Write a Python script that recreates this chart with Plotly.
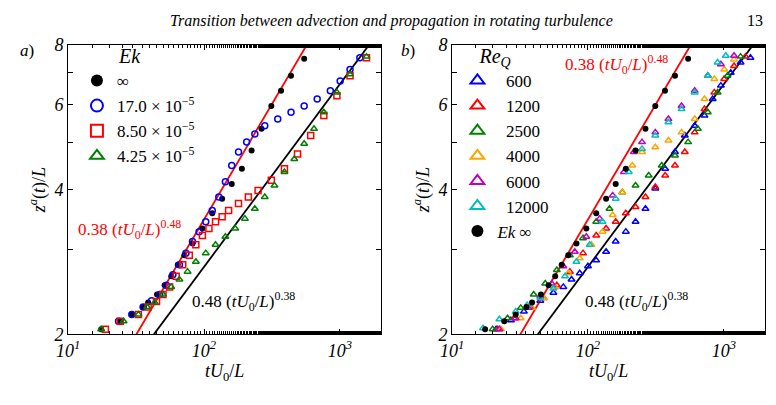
import numpy as np
import plotly.graph_objects as go

# ---- panel a: Ek series ----
t_inf = [17.5, 24.2, 29.4, 35.3, 38.8, 45.1, 51.3, 57.4, 64.1, 71.6, 82.3, 97.3, 115, 136, 160, 190, 224, 265, 313, 369, 437, 546]
z_inf = [2.05, 2.13, 2.20, 2.28, 2.33, 2.42, 2.53, 2.64, 2.79, 2.92, 3.09, 3.32, 3.57, 3.83, 4.11, 4.42, 4.82, 5.35, 5.97, 6.42, 6.9, 7.48]

t_ek17 = [23.5, 29.4, 35.7, 41.1, 47.2, 52.8, 59, 65.9, 73.6, 82.3, 92, 103, 115, 128.5, 143.6, 160, 179.5, 206, 236.6, 280, 349, 437, 546, 681, 851, 1005, 1188, 1403]
z_ek17 = [2.13, 2.20, 2.28, 2.35, 2.42, 2.53, 2.66, 2.79, 2.95, 3.12, 3.27, 3.43, 3.62, 3.86, 4.15, 4.49, 4.79, 5.02, 5.22, 5.43, 5.61, 5.79, 5.97, 6.17, 6.42, 6.73, 7.11, 7.52]

t_ek85 = [18.8, 24.2, 32.9, 38.8, 44.7, 49.9, 55.8, 62.4, 69.7, 77.9, 87.1, 97.3, 108.7, 121.6, 136, 151.7, 179.5, 212, 250, 313, 391, 488, 610, 762, 951, 1188, 1570]
z_ek85 = [2.05, 2.13, 2.20, 2.28, 2.34, 2.42, 2.51, 2.64, 2.79, 2.92, 3.07, 3.21, 3.32, 3.43, 3.51, 3.62, 3.74, 3.86, 3.98, 4.18, 4.42, 4.74, 5.18, 5.70, 6.27, 6.9, 7.52]

t_ek425 = [17.5, 25.6, 32.9, 38.2, 43.4, 49.9, 57.4, 65.9, 75.7, 87.1, 103, 121.6, 143.6, 169.6, 200, 236.6, 280, 330, 391, 462, 546, 645, 762, 951, 1188, 1570]
z_ek425 = [2.05, 2.13, 2.20, 2.28, 2.33, 2.42, 2.51, 2.60, 2.70, 2.83, 2.95, 3.07, 3.19, 3.32, 3.48, 3.65, 3.86, 4.08, 4.35, 4.63, 4.98, 5.35, 5.79, 6.37, 6.95, 7.56]

# ---- panel b: Re_Q series ----
t_600 = [21.1, 27.1, 33.8, 44.6, 55.7, 65.9, 75.7, 87.0, 100, 115, 136, 160, 190, 224, 265, 313, 370, 437, 516, 610, 720, 828, 951, 1124, 1328, 1569]
z_600 = [2.05, 2.14, 2.23, 2.35, 2.44, 2.51, 2.60, 2.68, 2.77, 2.85, 2.97, 3.12, 3.27, 3.43, 3.65, 4.02, 4.42, 4.79, 5.18, 5.43, 5.70, 6.17, 6.58, 7.0, 7.35, 7.52]

t_1200 = [21.7, 28.6, 37.8, 47.2, 59.0, 73.6, 92.0, 115, 136, 160, 190, 224, 265, 313, 370, 437, 516, 610, 720, 851, 1006, 1189, 1443]
z_1200 = [2.05, 2.16, 2.27, 2.38, 2.53, 2.70, 2.95, 3.21, 3.32, 3.43, 3.57, 3.68, 3.86, 4.05, 4.28, 4.49, 4.79, 5.26, 5.88, 6.37, 6.79, 7.23, 7.56]

t_2500 = [19.9, 25.6, 32.0, 39.9, 48.5, 59.0, 73.6, 92.0, 115, 144, 179, 224, 280, 349, 437, 546, 644, 762, 900, 1063, 1328]
z_2500 = [2.05, 2.16, 2.27, 2.42, 2.55, 2.72, 2.92, 3.17, 3.43, 3.65, 3.95, 4.08, 4.28, 4.49, 4.71, 5.02, 5.35, 5.79, 6.37, 6.9, 7.56]

t_4000 = [22.9, 32.0, 38.8, 47.2, 57.3, 71.6, 87.0, 106, 128, 152, 179, 212, 250, 313, 391, 488, 610, 720, 851, 1006, 1189]
z_4000 = [2.05, 2.16, 2.27, 2.38, 2.51, 2.68, 2.88, 3.07, 3.27, 3.54, 3.95, 4.49, 4.79, 4.90, 5.06, 5.26, 5.61, 6.17, 6.79, 7.11, 7.46]

t_6000 = [22.3, 29.4, 36.7, 44.6, 54.2, 65.9, 80.0, 97.2, 122, 152, 184, 218, 250, 313, 391, 488, 610, 762, 951, 1189]
z_6000 = [2.05, 2.16, 2.27, 2.40, 2.55, 2.77, 2.97, 3.19, 3.48, 3.89, 4.35, 4.79, 5.02, 5.26, 5.61, 5.97, 6.42, 6.9, 7.29, 7.59]

t_12000 = [16.9, 22.3, 29.4, 35.7, 44.6, 55.7, 67.8, 82.3, 103, 128, 160, 200, 250, 313, 391, 488, 610, 762, 900, 1034]
z_12000 = [2.06, 2.15, 2.23, 2.30, 2.38, 2.49, 2.64, 2.83, 3.07, 3.43, 3.83, 4.35, 4.86, 5.18, 5.52, 5.88, 6.37, 6.9, 7.35, 7.59]

# fits
t_fit = np.logspace(1, 3.5, 200)
z_red = 0.38 * t_fit ** 0.48
z_blk = 0.48 * t_fit ** 0.38

FONT = "Liberation Serif"
fig = go.Figure()


def pts(x, y, name, color, symbol, xa, ya, leg, filled=False):
    fig.add_trace(go.Scatter(
        x=x, y=y, mode="markers", name=name, xaxis=xa, yaxis=ya, legend=leg,
        marker=dict(symbol=symbol, size=6, color=color,
                    line=dict(color=color, width=1.5 if not filled else 0)),
    ))


for xa, ya, leg in [("x", "y", "legend"), ("x2", "y2", "legend2")]:
    fig.add_trace(go.Scatter(x=t_fit, y=z_red, mode="lines", line=dict(color="red", width=1.8),
                             xaxis=xa, yaxis=ya, showlegend=False))
    fig.add_trace(go.Scatter(x=t_fit, y=z_blk, mode="lines", line=dict(color="black", width=1.8),
                             xaxis=xa, yaxis=ya, showlegend=False))

pts(t_inf, z_inf, "∞", "black", "circle", "x", "y", "legend", True)
pts(t_ek17, z_ek17, "17.0 × 10<sup>−5</sup>", "#0000ff", "circle-open", "x", "y", "legend")
pts(t_ek85, z_ek85, "8.50 × 10<sup>−5</sup>", "#ff0000", "square-open", "x", "y", "legend")
pts(t_ek425, z_ek425, "4.25 × 10<sup>−5</sup>", "#008000", "triangle-up-open", "x", "y", "legend")

pts(t_600, z_600, "  600", "#0000ff", "triangle-up-open", "x2", "y2", "legend2")
pts(t_1200, z_1200, "  1200", "#ff0000", "triangle-up-open", "x2", "y2", "legend2")
pts(t_2500, z_2500, "  2500", "#008000", "triangle-up-open", "x2", "y2", "legend2")
pts(t_4000, z_4000, "  4000", "#ffa500", "triangle-up-open", "x2", "y2", "legend2")
pts(t_6000, z_6000, "  6000", "#bf00bf", "triangle-up-open", "x2", "y2", "legend2")
pts(t_12000, z_12000, "  12000", "#00bfbf", "triangle-up-open", "x2", "y2", "legend2")
pts(t_inf, z_inf, "<i>Ek</i> ∞", "black", "circle", "x2", "y2", "legend2", True)

xax = dict(type="log", range=[1.0, 3.304], showline=True, mirror="ticks", linecolor="black",
           ticks="inside", ticklen=5, tickcolor="black", tickvals=[10, 100, 1000],
           ticktext=["<i>10<sup>1</sup></i>", "<i>10<sup>2</sup></i>", "<i>10<sup>3</sup></i>"],
           minor=dict(ticks="inside", ticklen=3, tickcolor="black"),
           showgrid=False, zeroline=False, tickfont=dict(size=18),
           title=dict(text="<i>tU</i><sub>0</sub>/<i>L</i>", font=dict(size=18), standoff=2))
yax = dict(type="log", range=[np.log10(2), np.log10(8)], showline=True, mirror="ticks", linecolor="black",
           ticks="inside", ticklen=5, tickcolor="black", tickvals=[2, 3, 4, 5, 6, 7, 8],
           ticktext=["<i>2</i>", "", "<i>4</i>", "", "<i>6</i>", "", "<i>8</i>"], showgrid=False,
           zeroline=False, tickfont=dict(size=18),
           title=dict(text="<i>z<sup>a</sup></i>(<i>t</i>)/<i>L</i>", font=dict(size=18), standoff=4))

legend_common = dict(bgcolor="rgba(0,0,0,0)", font=dict(size=17), itemsizing="constant",
                     tracegroupgap=0, yanchor="top", xanchor="left")

fig.update_layout(
    width=776, height=405, margin=dict(l=0, r=0, t=0, b=0),
    paper_bgcolor="white", plot_bgcolor="white",
    font=dict(family=FONT, color="black", size=16),
    xaxis=dict(xax, domain=[0.0735, 0.4832], anchor="y"),
    yaxis=dict(yax, domain=[0.1576, 0.9096], anchor="x"),
    xaxis2=dict(xax, domain=[0.576, 0.9858], anchor="y2"),
    yaxis2=dict(yax, domain=[0.1576, 0.9096], anchor="x2"),
    legend=dict(legend_common, x=0.085, y=0.93,
                title=dict(text="        <i>Ek</i>", side="top")),
    legend2=dict(legend_common, x=0.583, y=0.93,
                 title=dict(text="    <i>Re<sub>Q</sub></i>", side="top")),
    showlegend=True,
)

fig.add_annotation(text="<i>Transition between advection and propagation in rotating turbulence</i>",
                   x=0.497, y=1.0, xref="paper", yref="paper", xanchor="center", yanchor="top",
                   showarrow=False, font=dict(size=16))
fig.add_annotation(text="13", x=0.985, y=1.0, xref="paper", yref="paper", xanchor="right",
                   yanchor="top", showarrow=False, font=dict(size=16))
fig.add_annotation(text="<i>a</i>)", x=0.008, y=0.925, xref="paper", yref="paper", xanchor="left",
                   yanchor="top", showarrow=False, font=dict(size=17))
fig.add_annotation(text="<i>b</i>)", x=0.506, y=0.925, xref="paper", yref="paper", xanchor="left",
                   yanchor="top", showarrow=False, font=dict(size=17))

red_txt = "0.38 (<i>tU</i><sub>0</sub>/<i>L</i>)<sup>0.48</sup>"
blk_txt = "0.48 (<i>tU</i><sub>0</sub>/<i>L</i>)<sup>0.38</sup>"
fig.add_annotation(text=red_txt, x=1.06, y=0.52, xref="x", yref="y", xanchor="left", showarrow=False,
                   font=dict(size=17, color="red"))
fig.add_annotation(text=blk_txt, x=1.9, y=0.37, xref="x", yref="y", xanchor="left", showarrow=False,
                   font=dict(size=17, color="black"))
fig.add_annotation(text=red_txt, x=1.82, y=0.862, xref="x2", yref="y2", xanchor="left", showarrow=False,
                   font=dict(size=17, color="red"))
fig.add_annotation(text=blk_txt, x=1.96, y=0.37, xref="x2", yref="y2", xanchor="left", showarrow=False,
                   font=dict(size=17, color="black"))

fig.write_html("out.html", post_script="document.body.style.margin='0';",
               config={"displayModeBar": False})
